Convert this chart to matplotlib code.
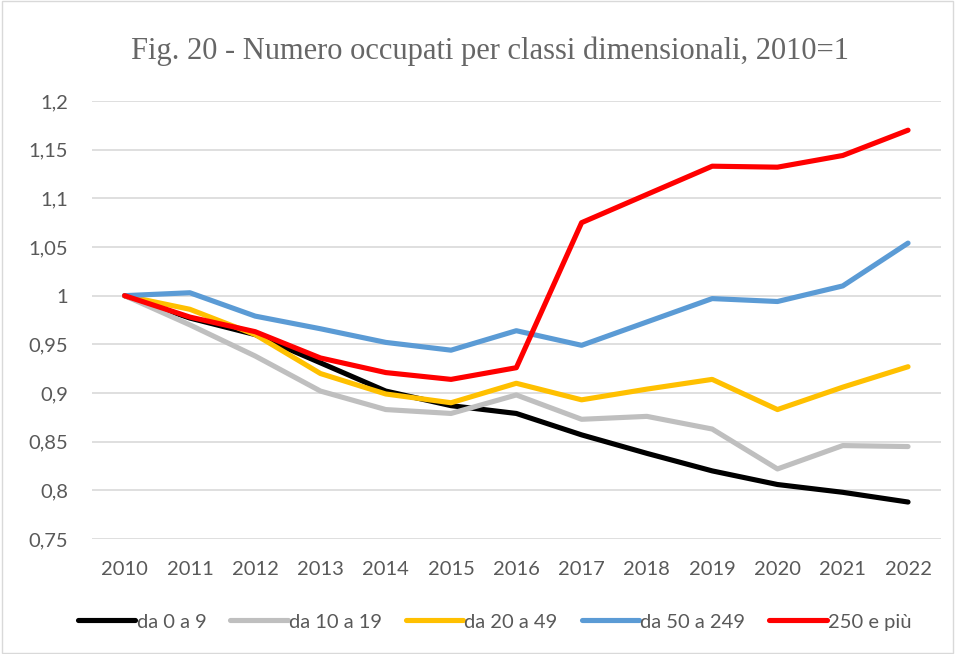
import matplotlib.pyplot as plt
from matplotlib.patches import Rectangle
from matplotlib.ticker import FuncFormatter

anni = list(range(2010, 2023))

da_0_a_9 = [1.000, 0.977, 0.960, 0.931, 0.902, 0.887, 0.879, 0.857, 0.838, 0.820, 0.806, 0.798, 0.788]
da_10_a_19 = [1.000, 0.970, 0.938, 0.902, 0.883, 0.879, 0.898, 0.873, 0.876, 0.863, 0.822, 0.846, 0.845]
da_20_a_49 = [1.000, 0.986, 0.960, 0.920, 0.899, 0.890, 0.910, 0.893, 0.904, 0.914, 0.883, 0.906, 0.927]
da_50_a_249 = [1.000, 1.003, 0.979, 0.966, 0.952, 0.944, 0.964, 0.949, 0.973, 0.997, 0.994, 1.010, 1.054]
da_250_e_piu = [1.000, 0.978, 0.963, 0.936, 0.921, 0.914, 0.926, 1.075, 1.104, 1.133, 1.132, 1.144, 1.170]

serie = [
    ("da 0 a 9", da_0_a_9, "#000000"),
    ("da 10 a 19", da_10_a_19, "#BFBFBF"),
    ("da 20 a 49", da_20_a_49, "#FFC000"),
    ("da 50 a 249", da_50_a_249, "#5B9BD5"),
    ("250 e più", da_250_e_piu, "#FF0000"),
]

yticks = [0.75, 0.8, 0.85, 0.9, 0.95, 1.0, 1.05, 1.1, 1.15, 1.2]

plt.rcParams['font.family'] = ['Lato', 'DejaVu Sans']

fig = plt.figure(figsize=(9.55, 6.54), dpi=100)
ax = fig.add_axes([0.0963, 0.1758, 0.8887, 0.6698])

for nome, valori, colore in serie:
    ax.plot(anni, valori, color=colore, lw=3.7, label=nome, solid_capstyle='round', solid_joinstyle='round')

ax.set_xlim(2009.5, 2022.5)
ax.set_ylim(0.75, 1.2)
ax.set_xticks(anni)
ax.set_yticks(yticks)
ax.yaxis.set_major_formatter(FuncFormatter(lambda v, p: ('%g' % v).replace('.', ',')))
ax.grid(axis='y', color='#D9D9D9', lw=1.2)
ax.set_axisbelow(True)
for s in ax.spines.values():
    s.set_visible(False)
ax.tick_params(length=0, labelsize=14.5, colors='#595959')
ax.tick_params(axis='x', pad=16)
ax.tick_params(axis='y', pad=17)

fig.text(0.513, 0.9098, "Fig. 20 - Numero occupati per classi dimensionali, 2010=1",
         ha='center', va='baseline', fontsize=22, color='#666666', family='Liberation Serif')

fig.legend(loc='center', bbox_to_anchor=(0.518, 0.049), ncol=5, frameon=False,
           fontsize=14.5, handlelength=2.85, handletextpad=0.05, columnspacing=1.2,
           labelcolor='#595959')

fig.patches.append(Rectangle((0.002, 0.002), 0.996, 0.996, transform=fig.transFigure,
                             fill=False, edgecolor='#D9D9D9', lw=1))

fig.savefig('out.png', dpi=100)
